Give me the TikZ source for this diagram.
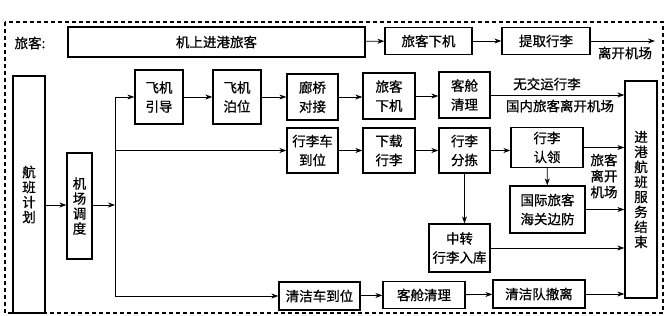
\documentclass[tikz,border=0pt]{standalone}
\usepackage{fontspec}
\setmainfont{Noto Sans CJK SC}[FakeBold=0.7]
\usetikzlibrary{arrows.meta}
\tikzset{
  box/.style={draw, line width=1.3pt, inner sep=0pt, align=center,
    font=\fontsize{13.5}{19}\selectfont},
  vbox/.style={box, font=\fontsize{13.5}{15}\selectfont},
  arr/.style={-{Stealth[length=7pt,width=5pt]}, line width=0.8pt},
  lab/.style={font=\fontsize{13.5}{16}\selectfont, inner sep=0pt, align=center}
}
\begin{document}
\begin{tikzpicture}[x=1pt, y=-1pt]
	\useasboundingbox (0,0) rectangle (665,316);
	\draw[line width=1.2pt, dash pattern=on 4pt off 3pt] (5,22) rectangle (663,313);
	% passenger line
	\node[lab] (lk) at (30,43) {旅客:};
	\node[box, minimum width=297, minimum height=30] (jsjg) at (216.5,42) {机上进港旅客};
	\node[box, minimum width=87, minimum height=27] (lkxj1) at (428.5,41) {旅客下机};
	\node[box, minimum width=88, minimum height=27] (tqxl) at (546,41) {提取行李};
	\coordinate (lkjc) at (655,41);
	\node[lab] (lkjcl) at (625,53) {离开机场};
	\draw[arr] (jsjg) -- (lkxj1);
	\draw[arr] (lkxj1) -- (tqxl);
	\draw[arr] (tqxl) -- (lkjc);
	% left column
	\node[vbox, minimum width=32, minimum height=237] (hbjh) at (29,194.5) {航\\班\\计\\划};
	\node[vbox, minimum width=25, minimum height=106] (jcdd) at (79.5,206) {机\\场\\调\\度};
	\node[vbox, minimum width=32, minimum height=217] (jsfw) at (641,189.5) {进\\港\\航\\班\\服\\务\\结\\束};
	\coordinate (bus) at (115,205);
	% aircraft row
	\node[box, minimum width=48, minimum height=54] (fjyd) at (159,97) {飞机\\引导};
	\node[box, minimum width=48, minimum height=54] (fjbw) at (237,97) {飞机\\泊位};
	\node[box, minimum width=51, minimum height=46] (lqdj) at (312.5,97) {廊桥\\对接};
	\node[box, minimum width=52, minimum height=46] (lkxj2) at (389,96) {旅客\\下机};
	\node[box, minimum width=51, minimum height=46] (kcql1) at (464.5,95) {客舱\\清理};
	\node[lab] (wjy) at (547,84) {无交运行李};
	\node[lab] (gnlk) at (560,106) {国内旅客离开机场};
	% baggage row
	\node[box, minimum width=51, minimum height=45] (xlcdw) at (312.5,150.5) {行李车\\到位};
	\node[box, minimum width=52, minimum height=45] (xzxl) at (389,150.5) {下载\\行李};
	\node[box, minimum width=51, minimum height=45] (xlfj) at (464.5,150.5) {行李\\分拣};
	\node[box, minimum width=72, minimum height=40] (xlrl) at (547,147.5) {行李\\认领};
	\node[box, minimum width=75, minimum height=47] (gjlk) at (547.5,209.5) {国际旅客\\海关边防};
	\node[box, minimum width=61, minimum height=48] (zzxl) at (459.5,248) {中转\\行李入库};
	\node[lab] (lklk) at (604,176) {旅客\\离开\\机场};
	% cleaning row
	\node[box, minimum width=81, minimum height=28] (qjcdw) at (319.5,296) {清洁车到位};
	\node[box, minimum width=82, minimum height=27] (kcql2) at (424,295) {客舱清理};
	\node[box, minimum width=92, minimum height=28] (qjdcl) at (539,294) {清洁队撤离};
	% connectors
	\draw[arr] (hbjh.east |- bus) -- (jcdd.west |- bus);
	\draw[arr] (jcdd.east |- bus) -- (bus);
	\draw[line width=0.8pt] (bus |- fjyd.west) -- (bus |- qjcdw.west);
	\draw[arr] (bus |- fjyd.west) -- (fjyd.west);
	\draw[arr] (bus |- xlcdw.west) -- (xlcdw.west);
	\draw[arr] (bus |- qjcdw.west) -- (qjcdw.west);
	\draw[arr] (fjyd) -- (fjbw);
	\draw[arr] (fjbw) -- (lqdj);
	\draw[arr] (lqdj.east) -- (lqdj.east -| lkxj2.west);
	\draw[arr] (lkxj2.east) -- (lkxj2.east -| kcql1.west);
	\draw[arr] (kcql1.east) -- (kcql1.east -| jsfw.west);
	\draw[arr] (xlcdw) -- (xzxl);
	\draw[arr] (xzxl) -- (xlfj);
	\draw[arr] (xlfj.east) -- (xlfj.east -| xlrl.west);
	\draw[arr] (xlrl.east) -- (xlrl.east -| jsfw.west);
	\draw[arr] (xlrl) -- (gjlk);
	\draw[arr] (gjlk.east) -- (gjlk.east -| jsfw.west);
	\draw[arr] (xlfj.south) -- (xlfj.south |- zzxl.north);
	\draw[arr] (zzxl.east) -- (zzxl.east -| jsfw.west);
	\draw[arr] (qjcdw) -- (kcql2);
	\draw[arr] (kcql2) -- (qjdcl);
	\draw[arr] (qjdcl.east) -- (qjdcl.east -| jsfw.west);
\end{tikzpicture}
\end{document}
